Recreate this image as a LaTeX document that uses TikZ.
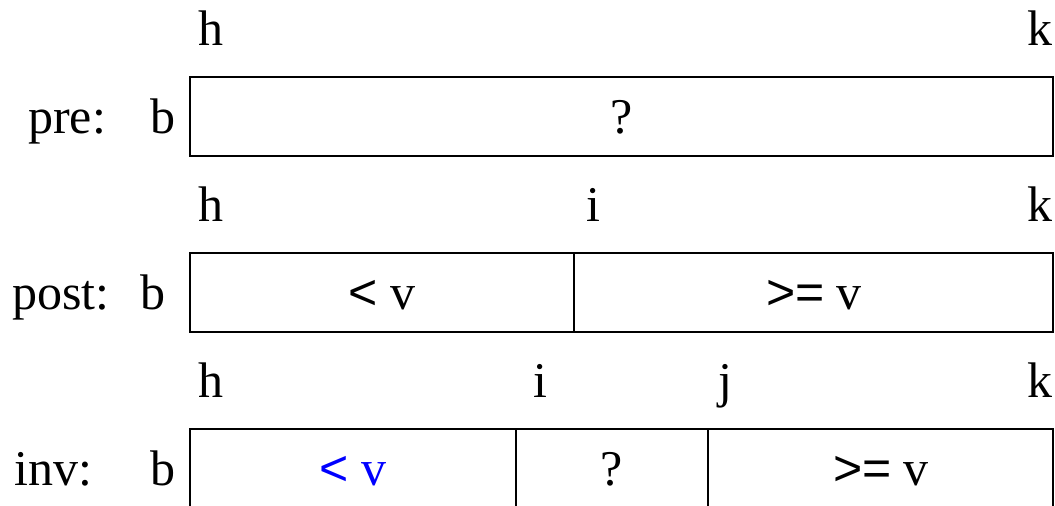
\documentclass[tikz,border=0pt]{standalone}
\usepackage{fontspec}
\setmainfont{Liberation Serif}
\setsansfont{Liberation Sans}
\usetikzlibrary{positioning}

\begin{document}
\begin{tikzpicture}[
  x=1pt, y=-1pt,
  every node/.style={font=\fontsize{50}{60}\selectfont, inner sep=0pt},
  lbl/.style={anchor=base},
  rowlbl/.style={anchor=base west},
  frame/.style={draw, line width=2pt},
  divider/.style={draw, line width=1.4pt}
]
\clip (0,0) rectangle (1055,506);

% pre
\node[rowlbl] (prename) at (28,133) {pre:};
\node[rowlbl] (preb) at (150,133) {b};
\node[lbl] (preh) at (211,45) {h};
\node[lbl] (prek) at (1040,45) {k};
\draw[frame] (190,77) rectangle (1053,156);
\node[lbl] (preq) at (622,133) {?};

% post
\node[rowlbl] (postname) at (12,309) {post:};
\node[rowlbl] (postb) at (140,309) {b};
\node[lbl] (posth) at (211,221) {h};
\node[lbl] (posti) at (593,221) {i};
\node[lbl] (postk) at (1040,221) {k};
\draw[frame] (190,253) rectangle (1053,332);
\draw[divider] (574,253) -- (574,332);
\node[lbl] (postlt) at (382,309) {{\sffamily <} v};
\node[lbl] (postge) at (814,309) {{\sffamily >=} v};

% inv
\node[rowlbl] (invname) at (14,485) {inv:};
\node[rowlbl] (invb) at (150,485) {b};
\node[lbl] (invh) at (211,397) {h};
\node[lbl] (invi) at (540,397) {i};
\node[lbl] (invj) at (725,397) {j};
\node[lbl] (invk) at (1040,397) {k};
\draw[frame] (190,429) rectangle (1053,540);
\draw[divider] (516,429) -- (516,540);
\draw[divider] (708,429) -- (708,540);
\node[lbl, text=blue] (invlt) at (353,485) {{\sffamily <} v};
\node[lbl] (invq) at (612,485) {?};
\node[lbl] (invge) at (881,485) {{\sffamily >=} v};

\end{tikzpicture}
\end{document}
